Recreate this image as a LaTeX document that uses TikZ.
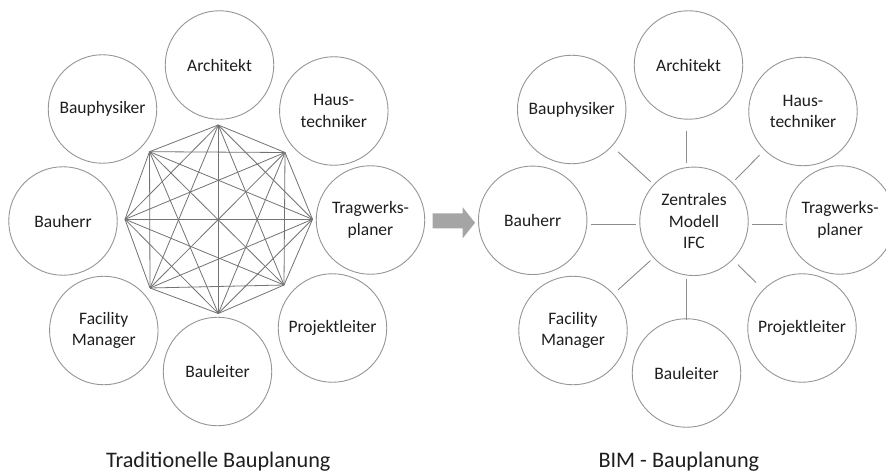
\documentclass[tikz,border=0pt]{standalone}
\usepackage{fontspec}
\setmainfont{Carlito}
\definecolor{circ}{RGB}{150,150,150}
\definecolor{edgec}{RGB}{115,115,115}
\definecolor{conc}{RGB}{140,140,140}
\definecolor{txt}{RGB}{30,30,30}
\definecolor{arr}{RGB}{165,165,165}
\begin{document}
\begin{tikzpicture}[x=1pt,y=-1pt,
  party/.style={circle, draw=circ, line width=0.9pt, fill=white, minimum size=108.5pt,
    inner sep=0pt, text=txt, font=\fontsize{17.5}{21.5}\selectfont, align=center},
  mesh/.style={draw=edgec, line width=0.8pt},
  conn/.style={draw=conc, line width=0.9pt},
  caption/.style={anchor=base, text=txt, font=\fontsize{22.2}{26}\selectfont}]
\clip (0,0) rectangle (886,473);
\useasboundingbox (0,0) rectangle (886,473);
\fill[white] (0,0) rectangle (886,473);

% ---------- left: traditional ----------
\coordinate (v1) at (218.3,125);
\coordinate (v2) at (285,152.5);
\coordinate (v3) at (312.5,219.3);
\coordinate (v4) at (284,285);
\coordinate (v5) at (218.3,313.5);
\coordinate (v6) at (150,288);
\coordinate (v7) at (125,219.3);
\coordinate (v8) at (149.5,151.7);
\foreach \i in {1,...,7}{
  \pgfmathtruncatemacro\nxt{\i+1}
  \foreach \j in {\nxt,...,8}{
    \draw[mesh] (v\i) -- (v\j);
  }
}

\node[party] (la) at (219.5,65) {Architekt};
\node[party] (lh) at (333.8,111) {Haus-\\techniker};
\node[party] (lt) at (370.5,220) {Tragwerks-\\planer};
\node[party] (lp) at (332.5,328) {Projektleiter};
\node[party] (lb) at (217.5,371.5) {Bauleiter};
\node[party] (lf) at (103.8,330.5) {Facility\\Manager};
\node[party] (lo) at (63,221) {Bauherr};
\node[party] (ly) at (102.5,109) {Bauphysiker};

\node[caption] (lcap) at (218.3,467) {Traditionelle Bauplanung};

% ---------- block arrow ----------
\fill[arr] (432.7,213.3) -- (462.7,213.3) -- (462.7,207.3) -- (475,222.8)
  -- (462.7,238.3) -- (462.7,228.3) -- (432.7,228.3) -- cycle;

% ---------- right: BIM ----------
\node[party] (rz) at (694,221.3) {Zentrales\\Modell\\IFC};
\node[party] (ra) at (688.5,65) {Architekt};
\node[party] (rh) at (803,111.5) {Haus-\\techniker};
\node[party] (rt) at (840.2,220) {Tragwerks-\\planer};
\node[party] (rp) at (802,328) {Projektleiter};
\node[party] (rb) at (686.5,373) {Bauleiter};
\node[party] (rf) at (573,330.5) {Facility\\Manager};
\node[party] (ro) at (532.7,220.3) {Bauherr};
\node[party] (ry) at (571.7,109.5) {Bauphysiker};

\draw[conn, shorten <=3.4pt, shorten >=11pt] ([xshift=-8pt]rz.north) -- ([xshift=-2.5pt]ra.south);
\draw[conn, shorten <=3.3pt, shorten >=-1.5pt] ([xshift=-7.7pt]rz.south) -- ([xshift=-0.2pt]rb.north);
\draw[conn, shorten <=3.6pt, shorten >=3.4pt] ([yshift=-2.7pt]rz.west) -- ([yshift=-3.7pt]ro.east);
\draw[conn, shorten <=3.3pt, shorten >=2.7pt] ([yshift=-2.7pt]rz.east) -- ([yshift=-4pt]rt.west);
\draw[conn, shorten <=8pt, shorten >=4pt] (ry) -- (rz);
\draw[conn, shorten <=7pt, shorten >=4pt] (rh) -- (rz);
\draw[conn, shorten <=6pt, shorten >=4pt] (rf) -- (rz);
\draw[conn, shorten <=10pt, shorten >=7pt] (rp) -- (rz);

\node[caption] (rcap) at (678.9,467) {BIM - Bauplanung};
\end{tikzpicture}
\end{document}
